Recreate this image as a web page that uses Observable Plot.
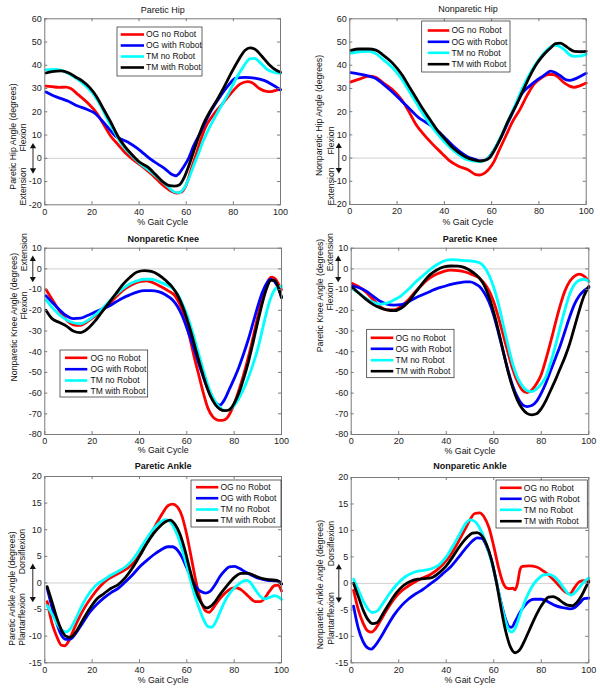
<!DOCTYPE html>
<html><head><meta charset="utf-8">
<script src="https://cdn.jsdelivr.net/npm/d3@7"></script>
<script src="https://cdn.jsdelivr.net/npm/@observablehq/plot@0.6"></script>
<style>
body{margin:0;background:#fff;}
#chart{position:relative;width:600px;height:692px;background:#fff;overflow:hidden;}
.panel{position:absolute;}
</style></head><body><div id="chart"></div>
<script>
// ---------- data ----------
const seriesNames = ["OG no Robot", "OG with Robot", "TM no Robot", "TM with Robot"];
const seriesColors = ["#ff0000", "#0000ff", "#00ffff", "#000000"];
const xTicks = [0, 20, 40, 60, 80, 100];
const hipYTicks = [-20, -10, 0, 10, 20, 30, 40, 50, 60];
const kneeYTicks = [-80, -70, -60, -50, -40, -30, -20, -10, 0, 10];
const ankleYTicks = [-15, -10, -5, 0, 5, 10, 15, 20];

// Paretic Hip
const parHipOGno = [[0.5,31],[3,30.8],[6,30.5],[9,30.6],[11,30],[14,27.5],[18,24],[22,19.5],[25,14.5],[28,9.5],[31,6],[34,2.5],[38,-1],[42,-4],[46,-7.5],[50,-11.5],[53,-13.8],[56,-15],[58,-14.5],[60,-11.5],[62,-5],[64,1],[66,7.5],[68,13],[71,18],[75,23],[79,28],[83,32],[86,33],[88,32.5],[91,30],[94,28.8],[96,28.7],[98,29.2],[100,29.5]];
const parHipOGrob = [[0.5,28.5],[3,27.2],[6,26],[10,24.5],[14,22.5],[18,21],[21,19.5],[24,16.5],[27,13],[30,9.5],[33,8],[36,6.5],[39,4.5],[42,2],[45,-0.5],[48,-2.5],[51,-4.5],[54,-7],[55.5,-7.5],[57,-6.5],[59,-3.5],[61,0],[63,5],[66,11],[70,19.5],[74,26],[78,31.5],[81,34.5],[85,34.8],[89,34.5],[93,33.5],[96,32],[100,29.5]];
const parHipTMno = [[0.5,38],[4,38.2],[7,37.8],[10,36.5],[14,34],[18,30.5],[21,27],[24,22],[27,16],[30,10.5],[33,5.5],[36,2],[40,-2],[44,-5],[48,-8.5],[52,-12],[55,-14.5],[57,-14.8],[59,-13],[61,-9],[63,-3.5],[65,1.5],[67,7],[70,13.5],[74,21],[78,28],[81,34],[84,39],[87,42.8],[89,43],[91,41.5],[94,38.5],[97,37],[100,36.5]];
const parHipTMrob = [[0.5,36.7],[3,37.3],[7,37.6],[10,36.8],[13,35],[16,33.2],[19,30.5],[22,26.5],[25,21],[28,15.5],[31,9.5],[34,5],[37,1.5],[40,-1.5],[44,-4],[47,-7],[50,-10],[53,-11.8],[55,-12],[57,-11.5],[59,-8.5],[61,-3.5],[63,2.5],[65,8.5],[67,14],[70,20],[73,25],[76,30.5],[79,36.5],[82,42],[85,46.5],[87,47.5],[89,47],[92,44],[95,40.5],[98,38],[100,37]];

// Nonparetic Hip
const nonHipOGno = [[0.5,32.8],[4,34],[8,35.3],[11,34.8],[14,32.5],[18,29.5],[22,25],[25,20],[28,14.5],[31,10.5],[35,6],[39,2],[42,-1],[46,-3.5],[50,-5],[53,-7],[55,-7.3],[57,-6.5],[59,-4.5],[61,-1.5],[63,3],[66,9.5],[69,16],[72,21],[75,27],[78,32],[81,34.5],[84,36],[86,36],[88,35],[90,33],[93,31],[95,30.5],[97,31],[100,32.3]];
const nonHipOGrob = [[0.5,36.8],[4,36.2],[8,35.3],[11,34.3],[14,32],[18,28.5],[22,24.5],[26,20.5],[29,17.5],[32,15.5],[35,13.5],[38,11],[41,8],[44,5],[47,2.5],[50,0.5],[53,-0.5],[55,-1.2],[57,-1],[59,0.5],[61,3.5],[64,9],[67,15.5],[70,22],[73,28],[76,31],[79,33.5],[82,35.5],[85,37.5],[87,36.8],[89,35.5],[91,34],[93,33.5],[95,34],[98,35.5],[100,36.5]];
const nonHipTMno = [[0.5,45.2],[4,45.8],[8,46],[11,45],[14,42.5],[18,39],[22,34],[25,29],[28,24],[31,19],[34,14.5],[37,10.5],[40,7],[43,4],[46,1.5],[49,-0.5],[52,-1.2],[55,-1.5],[57,-1],[59,0.5],[61,3.5],[64,9.5],[67,16],[70,23],[73,30],[76,36],[79,41],[82,45],[85,48],[87,48.6],[89,48],[91,46.5],[93,44.5],[95,43.8],[98,44],[100,44.7]];
const nonHipTMrob = [[0.5,46.4],[4,47],[8,47],[11,46.5],[14,44.5],[18,41],[22,36],[25,31],[28,26],[31,21],[34,16.5],[37,12],[40,8.5],[43,5],[46,2.5],[49,0.5],[52,-0.7],[55,-1.3],[57,-1],[59,0],[61,3],[64,9],[67,16],[70,22],[73,28.5],[76,35],[79,40.5],[82,44.5],[85,47.5],[87,49.3],[89,49.5],[91,48.5],[93,47],[95,46],[98,45.8],[100,46]];

// Nonparetic Knee
const nonKneeOGno = [[0.5,-10],[3,-14.5],[6,-20],[9,-24.5],[12,-27],[15,-27.3],[18,-25.5],[21,-23],[25,-19.5],[28,-16],[31,-12.5],[34,-9.5],[37,-7.5],[40,-6.2],[43,-5.8],[46,-6.8],[49,-8.5],[52,-10.5],[55,-13],[57,-17],[59,-23],[61,-32],[63,-42],[65,-51],[67,-60],[69,-67.5],[71,-71.5],[73,-73],[75,-73.2],[77,-72],[79,-68],[81,-62],[83,-55],[85,-47],[87,-38],[89,-28],[91,-18],[93,-10],[95,-4.5],[96,-4],[97.5,-5],[99,-8],[100,-10]];
const nonKneeOGrob = [[0.5,-13],[3,-16],[6,-19.5],[9,-22.5],[12,-24],[15,-23.8],[18,-22.5],[21,-21],[24,-19.5],[27,-18],[30,-16],[33,-14],[36,-12.5],[39,-11.2],[42,-10.5],[45,-10.5],[48,-11],[51,-12.5],[54,-15],[56,-18],[58,-22.5],[60,-28.5],[62,-35],[64,-42],[66,-49],[68,-55.5],[70,-61],[72,-64.5],[74,-65.8],[76,-63],[78,-58],[80,-53],[82,-47.5],[84,-41],[86,-34],[88,-26],[90,-18],[92,-11],[94,-6.5],[95.5,-5],[97,-6],[98.5,-9],[100,-13.5]];
const nonKneeTMno = [[0.5,-15],[3,-18.5],[6,-22],[9,-24.5],[12,-26],[15,-26.5],[18,-25],[21,-22.5],[24,-19.5],[27,-16],[30,-12.5],[33,-9.5],[36,-7.2],[39,-5.8],[42,-5],[45,-5],[48,-6],[51,-7.5],[54,-9.5],[56,-12],[58,-16.5],[60,-22],[62,-29],[64,-37],[66,-45],[68,-53],[70,-59.5],[72,-64],[74,-67],[76,-68.5],[78,-68],[80,-66],[82,-62.5],[84,-58],[86,-52.5],[88,-46],[90,-38.5],[92,-29],[94,-19.5],[96,-12.5],[98,-9],[100,-8.5]];
const nonKneeTMrob = [[0.5,-20],[3,-24],[6,-25.8],[9,-27.5],[12,-30],[15,-30.8],[18,-29],[21,-25.5],[24,-21],[27,-16.5],[30,-12],[33,-7.5],[36,-4],[39,-1.5],[42,-0.8],[45,-1.2],[48,-2.8],[51,-5.5],[54,-9],[56,-12.5],[58,-17.5],[60,-24],[62,-31.5],[64,-40],[66,-48],[68,-55.5],[70,-61.5],[72,-65.5],[74,-67.8],[76,-68.5],[78,-68],[80,-65],[82,-60],[84,-53],[86,-45],[88,-35.5],[90,-25.5],[92,-16],[94,-8.5],[95.5,-5.5],[97,-5.5],[98.5,-8.5],[100,-14]];

// Paretic Knee
const parKneeOGno = [[0.5,-7],[3,-8.5],[6,-11],[9,-14.5],[12,-18],[15,-19.8],[18,-19.8],[21,-18],[24,-15],[27,-11],[30,-7.5],[33,-4.5],[36,-2.5],[39,-1.2],[42,-0.6],[45,-0.8],[48,-1.5],[51,-2.8],[54,-4.5],[56,-7],[58,-10.5],[60,-16],[62,-23.5],[64,-32],[66,-40.5],[68,-48.5],[70,-54.5],[72,-58.5],[74,-59.8],[76,-58.5],[78,-55.5],[80,-51],[82,-43.5],[84,-35],[86,-26],[88,-17.5],[90,-10.5],[92,-6],[94,-3.5],[96,-2.5],[98,-3.5],[100,-6]];
const parKneeOGrob = [[0.5,-8.2],[3,-9],[6,-10.5],[9,-13],[12,-15.5],[15,-17],[18,-17.5],[21,-17.3],[24,-16],[27,-14],[30,-12.5],[33,-11],[36,-9.5],[39,-8.5],[42,-7.5],[45,-6.8],[48,-6.3],[50,-6.3],[52,-7],[54,-8.5],[56,-11.5],[58,-16],[60,-22.5],[62,-31],[64,-40],[66,-49],[68,-56.5],[70,-62],[72,-65.5],[74,-66.5],[76,-66],[78,-64],[80,-60],[82,-55],[84,-49],[86,-43],[88,-37],[90,-30],[92,-23],[94,-17],[96,-13],[98,-10.5],[100,-9]];
const parKneeTMno = [[0.5,-9.5],[3,-11.5],[6,-14],[9,-16],[12,-17],[15,-16.5],[18,-15],[21,-13],[24,-10],[27,-6.5],[30,-3.5],[33,-0.5],[36,2],[39,3.8],[42,4.5],[45,4.3],[48,4],[51,3.8],[54,3],[56,1],[58,-3],[60,-9],[62,-17],[64,-27],[66,-37],[68,-46],[70,-52.5],[72,-56.5],[74,-58.8],[76,-59.3],[78,-58],[80,-55.5],[82,-52],[84,-45],[86,-37],[88,-28],[90,-19.5],[92,-12],[94,-7.5],[96,-5.5],[98,-5],[100,-6]];
const parKneeTMrob = [[0.5,-9],[3,-11.5],[6,-14.5],[9,-17],[12,-18.8],[15,-19.8],[18,-20.2],[21,-19],[24,-16],[27,-11.5],[30,-7],[33,-3],[36,-0.5],[39,1],[42,1.4],[45,1.3],[48,0.5],[51,-1.5],[54,-4.5],[56,-8],[58,-13.5],[60,-21],[62,-30],[64,-40],[66,-49.5],[68,-57.5],[70,-63.5],[72,-67.5],[74,-69.8],[76,-70.5],[78,-70],[80,-67.5],[82,-63.5],[84,-58.5],[86,-53.5],[88,-48],[90,-42.5],[92,-36],[94,-28],[96,-20],[98,-13],[100,-8.5]];

// Paretic Ankle
const parAnkOGno = [[1,-3.5],[3,-7.5],[5,-10],[7,-11.7],[8.5,-11.8],[10,-11],[12,-9],[14,-7],[17,-4.5],[20,-2.5],[23,-0.8],[26,0.5],[29,1.3],[32,2],[35,2.8],[38,4],[41,6],[44,8.5],[47,11],[50,13.3],[52,14.5],[54,14.8],[56,14.3],[58,12.5],[60,9],[62,4.5],[64,0],[66,-3.5],[68,-5.3],[69.5,-5.5],[71,-4.8],[73,-3.5],[76,-2],[79,-1],[81,-0.9],[83,-1.3],[86,-2.5],[89,-3.5],[91,-3.5],[93,-2.8],[95,-1.5],[97,-0.5],[98.5,-0.4],[100,-1.5]];
const parAnkOGrob = [[1,-1],[3,-4.5],[5,-7.5],[7,-9.8],[9,-10.6],[11,-10.5],[13,-9.5],[16,-7.5],[19,-5.5],[22,-4],[25,-2.8],[28,-1.8],[31,-1],[34,0.2],[37,1.5],[40,3],[43,4.2],[46,5.3],[49,6.2],[52,6.8],[54,6.8],[56,6.2],[58,4.8],[60,2.8],[62,0.8],[64,-0.8],[66,-1.6],[68,-1.9],[70,-1.5],[72,-0.3],[74,1.2],[76,2.3],[78,3],[80,3.1],[82,2.8],[85,2],[88,1.3],[91,0.8],[94,0.5],[97,0.4],[99,0.3],[100,-0.2]];
const parAnkTMno = [[1,-4.3],[3,-5.8],[5,-7.5],[7,-8.8],[9,-9.2],[11,-8.5],[13,-6.8],[16,-4],[19,-1.8],[22,-0.3],[25,0.6],[28,1.5],[31,2.2],[34,3],[37,4.3],[40,6.2],[43,8.3],[46,10.2],[49,11.5],[51,11.9],[53,11.5],[55,10],[57,7.8],[59,4.8],[61,1.5],[63,-1.8],[65,-4.5],[67,-6.8],[69,-8.2],[70.5,-8.3],[72,-7.5],[74,-5.5],[76,-3.5],[78,-2],[80,-1],[82,-0.2],[84,0.4],[85.5,0.5],[87,0],[89,-1.3],[91,-2.5],[93,-3],[95,-2.7],[97,-2.4],[99,-2.7],[100,-3.1]];
const parAnkTMrob = [[1,-0.7],[3,-3.5],[5,-6.5],[7,-8.8],[9,-10],[11,-10.2],[13,-9.3],[16,-7],[19,-4.8],[22,-3],[25,-2],[28,-1],[31,-0.3],[34,1],[37,2.8],[40,5],[43,7.3],[46,9.3],[49,10.8],[51,11.5],[53,11.8],[55,11],[57,9.3],[59,6.5],[61,3],[63,-0.3],[65,-2.8],[67,-4.3],[68.5,-4.7],[70,-4.4],[72,-3.5],[74,-2.2],[77,-0.5],[80,1],[83,1.8],[86,1.8],[89,1.3],[92,0.8],[95,0.6],[98,0.5],[100,-0.2]];

// Nonparetic Ankle
const nonAnkOGno = [[1,-1.3],[3,-5],[5,-7.5],[7,-9],[8.5,-9.2],[10,-8.7],[12,-7.3],[15,-5],[18,-3],[21,-1.5],[24,-0.5],[27,0.3],[30,1],[33,1.6],[36,2.5],[39,3.8],[42,5.5],[45,7.8],[48,10.3],[50,12],[52,13.2],[54,13.3],[56,12.5],[58,10.5],[60,7],[62,3],[64,0],[65.5,-0.9],[67,-1],[68,-0.9],[69,-1.2],[70,0],[71,2.5],[72,3.2],[75,3.3],[78,3.1],[81,2.3],[84,1.2],[87,-0.2],[90,-1.6],[92,-2],[94,-0.8],[96,0.3],[98,0.5],[100,0.5]];
const nonAnkOGrob = [[1,-4.3],[3,-8.5],[5,-11],[7,-12.2],[8.5,-12.4],[10,-11.8],[12,-10.5],[15,-8.2],[18,-6],[21,-4.3],[24,-3],[27,-2],[30,-1.2],[33,-0.2],[36,0.8],[39,2],[42,3.2],[45,4.8],[48,6.5],[51,8],[53,8.6],[55,8.5],[57,7],[59,4.5],[61,0.5],[63,-3.5],[65,-6.8],[66.5,-8.2],[67.5,-8.3],[69,-7.2],[71,-5.5],[73,-4.2],[75,-3.3],[77,-3],[80,-3],[83,-3.5],[86,-4.2],[89,-4.6],[92,-4.8],[94,-4.6],[96,-3.8],[98,-2.9],[100,-2.8]];
const nonAnkTMno = [[1,0.8],[3,-1.2],[5,-3.3],[7,-4.8],[9,-5.5],[11,-5.2],[13,-4],[16,-2],[19,-0.3],[22,1],[25,1.8],[28,2.3],[31,2.5],[34,2.8],[37,3.5],[40,5],[43,7.2],[46,9.6],[48,11.2],[50,12],[52,11.7],[54,10.5],[56,8.5],[58,5.8],[60,2.5],[62,-1.5],[64,-5.5],[66,-8.5],[67.5,-9.2],[69,-8.5],[71,-6],[73,-3.5],[75,-1.5],[77,0],[79,1],[81,1.6],[83,1.7],[85,1.4],[87,0.6],[89,-0.6],[91,-1.8],[92.5,-2.2],[94,-1.8],[96,-0.8],[98,0.3],[100,1]];
const nonAnkTMrob = [[1,0],[3,-2.5],[5,-5],[7,-6.8],[9,-7.6],[11,-7.4],[13,-6],[16,-3.8],[19,-1.8],[22,-0.4],[25,0.4],[28,0.8],[31,0.9],[34,1.1],[37,2],[40,3.3],[43,5.2],[46,7.2],[49,8.8],[51,9.5],[53,9.6],[55,9],[57,7.3],[59,4.5],[61,0.5],[63,-4.5],[65,-9],[67,-12],[69,-13.1],[71,-12.5],[73,-10.8],[75,-8.8],[77,-6.8],[79,-5],[81,-3.6],[83,-2.6],[85,-2.5],[87,-2.9],[89,-3.6],[91,-4.1],[93,-4.2],[95,-3.6],[97,-2.3],[99,-0.5],[100,0.3]];

// ---------- layout (page pixels) ----------
const panels = [
  {title: "Paretic Hip", bold: false, ylabel: "Paretic Hip Angle (degrees)", up: "Flexion", down: "Extension",
   yDomain: [-20, 60], yTicks: hipYTicks, series: [parHipOGno, parHipOGrob, parHipTMno, parHipTMrob],
   box: {left: 0, top: 0, height: 228}, f: {L: 44.3, R: 280, T: 18.3, B: 204.3}, titleY: 10, xlabY: 221.7,
   lab: {mainX: 13, secX: 23, arrX: 32.5, mainY: 136, upY: 137, downY: 186, half: 15},
   leg: {x0: 117, x1: 202, y0: 27, y1: 76, lx0: 120.7, lx1: 144, tx: 145.5, rows: [34, 45, 56, 67]}},
  {title: "Nonparetic Hip", bold: false, ylabel: "Nonparetic Hip Angle (degrees)", up: "Flexion", down: "Extension",
   yDomain: [-20, 60], yTicks: hipYTicks, series: [nonHipOGno, nonHipOGrob, nonHipTMno, nonHipTMrob],
   box: {left: 300, top: 0, height: 228}, f: {L: 349.3, R: 585.7, T: 18.3, B: 204}, titleY: 9, xlabY: 221.5,
   lab: {mainX: 318.3, secX: 331, arrX: 338.3, mainY: 115, upY: 140, downY: 186, half: 15},
   leg: {x0: 421.7, x1: 510, y0: 21, y1: 72, lx0: 427.7, lx1: 449.3, tx: 451, rows: [30, 41.3, 52.3, 63.7]}},
  {title: "Nonparetic Knee", bold: true, ylabel: "Nonparetic Knee Angle (degrees)", up: "Extension", down: "Flexion",
   yDomain: [-80, 10], yTicks: kneeYTicks, series: [nonKneeOGno, nonKneeOGrob, nonKneeTMno, nonKneeTMrob],
   box: {left: 0, top: 225, height: 230}, f: {L: 44.3, R: 281, T: 247.7, B: 434}, titleY: 238.3, xlabY: 450,
   lab: {mainX: 13.3, secX: 23.3, arrX: 32.3, mainY: 316.7, upY: 251.7, downY: 305, half: 13},
   leg: {x0: 60, x1: 147.7, y0: 350, y1: 397, lx0: 65, lx1: 87.3, tx: 90, rows: [357.3, 368.7, 380, 390.7]}},
  {title: "Paretic Knee", bold: true, ylabel: "Paretic Knee Angle (degrees)", up: "Extension", down: "Flexion",
   yDomain: [-80, 10], yTicks: kneeYTicks, series: [parKneeOGno, parKneeOGrob, parKneeTMno, parKneeTMrob],
   box: {left: 300, top: 225, height: 230}, f: {L: 350.7, R: 588.3, T: 247.7, B: 434}, titleY: 238.3, xlabY: 450.5,
   lab: {mainX: 319.3, secX: 329.3, arrX: 337.7, mainY: 295, upY: 251.7, downY: 296, half: 13},
   leg: {x0: 366.7, x1: 454, y0: 329.3, y1: 377.7, lx0: 370.7, lx1: 393.3, tx: 395, rows: [337.3, 348.3, 359.7, 370.7]}},
  {title: "Paretic Ankle", bold: true, ylabel: "Paretic Ankle Angle (degrees)", up: "Dorsiflexion", down: "Plantarflexion",
   yDomain: [-15, 20], yTicks: ankleYTicks, series: [parAnkOGno, parAnkOGrob, parAnkTMno, parAnkTMrob],
   box: {left: 0, top: 455, height: 237}, f: {L: 44.3, R: 281, T: 476, B: 662.3}, titleY: 466, xlabY: 680,
   lab: {mainX: 11.7, secX: 21.5, arrX: 32.3, mainY: 588, upY: 551, downY: 619, half: 19},
   leg: {x0: 191, x1: 281, y0: 480, y1: 527, lx0: 196, lx1: 218.3, tx: 220, rows: [486.7, 497.7, 509, 520]}},
  {title: "Nonparetic Ankle", bold: true, ylabel: "Nonparetic Ankle Angle (degrees)", up: "Dorsiflexion", down: "Plantarflexion",
   yDomain: [-15, 20], yTicks: ankleYTicks, series: [nonAnkOGno, nonAnkOGrob, nonAnkTMno, nonAnkTMrob],
   box: {left: 300, top: 455, height: 237}, f: {L: 350.7, R: 588.3, T: 477, B: 662.3}, titleY: 466, xlabY: 680,
   lab: {mainX: 320, secX: 331, arrX: 338.3, mainY: 584, upY: 543, downY: 618, half: 19},
   leg: {x0: 496, x1: 587.3, y0: 480, y1: 528, lx0: 500, lx1: 521.7, tx: 523.3, rows: [487.3, 498.3, 509.3, 520.7]}}
];

const FONT = "'Liberation Sans', Arial, Helvetica, sans-serif";
const FRAME = "#7a7a7a";
const chart = document.getElementById("chart");

for (const p of panels) {
  const {f, box, lab, leg} = p;
  const [yMin, yMax] = p.yDomain;
  const W = f.R - f.L, H = f.B - f.T;
  // page px -> data coordinates (for annotations placed outside/inside the frame)
  const sx = px => (px - f.L) / W * 100;
  const sy = py => yMax - (py - f.T) / H * (yMax - yMin);
  const zeroPx = f.T + yMax / (yMax - yMin) * H;

  const marks = [];
  marks.push(Plot.ruleY([0], {stroke: "#cfcfcf", strokeWidth: 1}));
  p.series.forEach((s, i) => {
    marks.push(Plot.line(s, {x: d => d[0], y: d => d[1], stroke: seriesColors[i], strokeWidth: 2.8, curve: "monotone-x"}));
  });
  marks.push(Plot.frame({stroke: FRAME, strokeWidth: 1}));
  marks.push(Plot.tickX(xTicks, {x: d => d, insetTop: H - 3, stroke: FRAME}));
  marks.push(Plot.tickX(xTicks, {x: d => d, insetBottom: H - 3, stroke: FRAME}));
  marks.push(Plot.tickY(p.yTicks, {y: d => d, insetRight: W - 3, stroke: FRAME}));
  marks.push(Plot.tickY(p.yTicks, {y: d => d, insetLeft: W - 3, stroke: FRAME}));
  marks.push(Plot.axisX({ticks: xTicks, tickSize: 0, tickPadding: 3.5, label: null, tickFormat: d => String(d), fontSize: 9, fill: "#222"}));
  marks.push(Plot.axisY({ticks: p.yTicks, tickSize: 0, tickPadding: 3, label: null, tickFormat: d => String(d), fontSize: 9, fill: "#222"}));
  marks.push(Plot.text([p.title], {x: 50, y: sy(p.titleY), text: d => d, lineAnchor: "middle", fontSize: 9, fontWeight: p.bold ? "bold" : "normal", fill: "#111"}));
  marks.push(Plot.text(["% Gait Cycle"], {x: 50, y: sy(p.xlabY), text: d => d, lineAnchor: "middle", fontSize: 8.8, fill: "#111"}));
  const ylabs = [
    {t: p.ylabel, x: lab.mainX, y: lab.mainY},
    {t: p.up, x: lab.secX, y: lab.upY},
    {t: p.down, x: lab.secX, y: lab.downY}
  ];
  marks.push(Plot.text(ylabs, {x: d => sx(d.x), y: d => sy(d.y), text: "t", rotate: -90, textAnchor: "middle", lineAnchor: "middle", fontSize: 8.7, fill: "#111"}));
  const ax = sx(lab.arrX);
  marks.push(Plot.ruleX([ax], {y1: sy(zeroPx - lab.half + 2), y2: sy(zeroPx + lab.half - 2), stroke: "#111", strokeWidth: 0.9}));
  marks.push(Plot.dot([{y: sy(zeroPx - lab.half + 3.2), r: 0}, {y: sy(zeroPx + lab.half - 3.2), r: 180}],
    {x: ax, y: "y", rotate: "r", symbol: "triangle", r: 2.3, fill: "#111", stroke: null}));
  marks.push(Plot.rect([{x1: sx(leg.x0), x2: sx(leg.x1), y1: sy(leg.y1), y2: sy(leg.y0)}],
    {x1: "x1", x2: "x2", y1: "y1", y2: "y2", fill: "white", stroke: "#222", strokeWidth: 0.7}));
  seriesNames.forEach((name, i) => {
    marks.push(Plot.ruleY([sy(leg.rows[i])], {x1: sx(leg.lx0), x2: sx(leg.lx1), stroke: seriesColors[i], strokeWidth: 2.6}));
  });
  marks.push(Plot.text(seriesNames.map((n, i) => ({n, y: sy(leg.rows[i])})),
    {x: sx(leg.tx), y: "y", text: "n", textAnchor: "start", lineAnchor: "middle", fontSize: 8.5, fill: "#111"}));

  const svg = Plot.plot({
    width: 300,
    height: box.height,
    marginLeft: f.L - box.left,
    marginRight: box.left + 300 - f.R,
    marginTop: f.T - box.top,
    marginBottom: box.top + box.height - f.B,
    x: {domain: [0, 100]},
    y: {domain: p.yDomain},
    style: {fontFamily: FONT, background: "transparent", overflow: "visible"},
    marks
  });
  const div = document.createElement("div");
  div.className = "panel";
  div.style.left = box.left + "px";
  div.style.top = box.top + "px";
  div.appendChild(svg);
  chart.appendChild(div);
}
</script>
</body></html>
